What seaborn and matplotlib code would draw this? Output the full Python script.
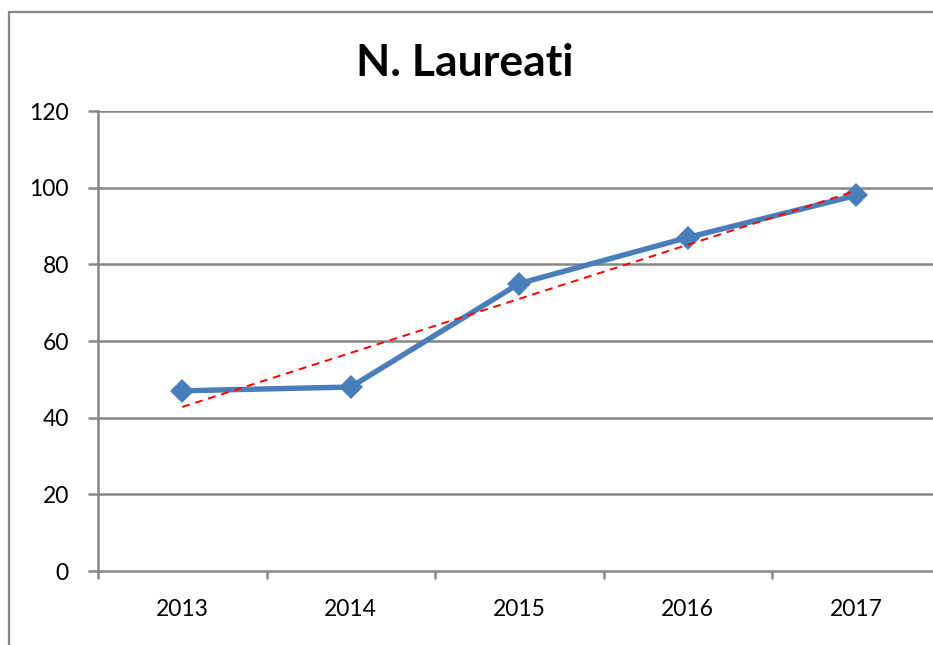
import numpy as np
import pandas as pd
import seaborn as sns
import matplotlib
matplotlib.use("Agg")
import matplotlib.pyplot as plt
from matplotlib.patches import Rectangle

years = ["2013", "2014", "2015", "2016", "2017"]
laureati = [47, 48, 75, 87, 98]
y_ticks = [0, 20, 40, 60, 80, 100, 120]
title = "N. Laureati"

sns.set_theme(style="white")
plt.rcParams["font.family"] = ["Lato", "DejaVu Sans"]

W, H = 933, 645
fig = plt.figure(figsize=(W / 100, H / 100), dpi=100)
fig.patch.set_facecolor("white")

# outer chart border
fig.patches.append(Rectangle((8.5 / W, 0 - 0.01), 1.1, (H - 11.5) / H + 0.01,
                             transform=fig.transFigure, fill=False,
                             edgecolor="#878787", linewidth=1.6, zorder=0))

left, right, top, bottom = 98, 940.5, 111, 571
ax = fig.add_axes([left / W, 1 - bottom / H, (right - left) / W, (bottom - top) / H])

df = pd.DataFrame({"pos": np.arange(len(years)), "val": laureati})
gray = "#868686"

ax.set_ylim(0, 120)
ax.set_xlim(-0.5, len(years) - 0.5)
ax.set_yticks(y_ticks)
ax.set_yticklabels([str(v) for v in y_ticks])
for v in y_ticks[1:]:
    ax.axhline(v, color=gray, linewidth=1.8, zorder=1)

sns.lineplot(data=df, x="pos", y="val", ax=ax, color="#4A7EBB", linewidth=3.9,
             marker="D", markersize=12, markeredgewidth=0, zorder=3)

coef = np.polyfit(df["pos"], df["val"], 1)
ax.plot(df["pos"], np.polyval(coef, df["pos"]), color="#FF0000", linewidth=1.4,
        linestyle=(0, (4, 3)), zorder=4)

ax.set_xticks(df["pos"])
ax.set_xticklabels(years)
ax.set_xticks(np.arange(-0.5, len(years), 1.0), minor=True)
ax.tick_params(axis="x", which="major", length=0, pad=20, labelsize=16.5, colors="black")
ax.tick_params(axis="x", which="minor", length=6, width=1.8, color=gray, direction="out", bottom=True)
ax.tick_params(axis="y", length=7, width=1.8, color=gray, direction="out", left=True,
               pad=14, labelsize=16.5, labelcolor="black")
ax.set_xlabel("")
ax.set_ylabel("")
for s in ["top", "right"]:
    ax.spines[s].set_visible(False)
for s in ["left", "bottom"]:
    ax.spines[s].set_color(gray)
    ax.spines[s].set_linewidth(1.8)
ax.set_facecolor("white")

fig.text(465 / W, 1 - 63 / H, title, ha="center", va="center",
         fontsize=32, fontweight="bold", color="black")

fig.savefig("out.png", dpi=100)
